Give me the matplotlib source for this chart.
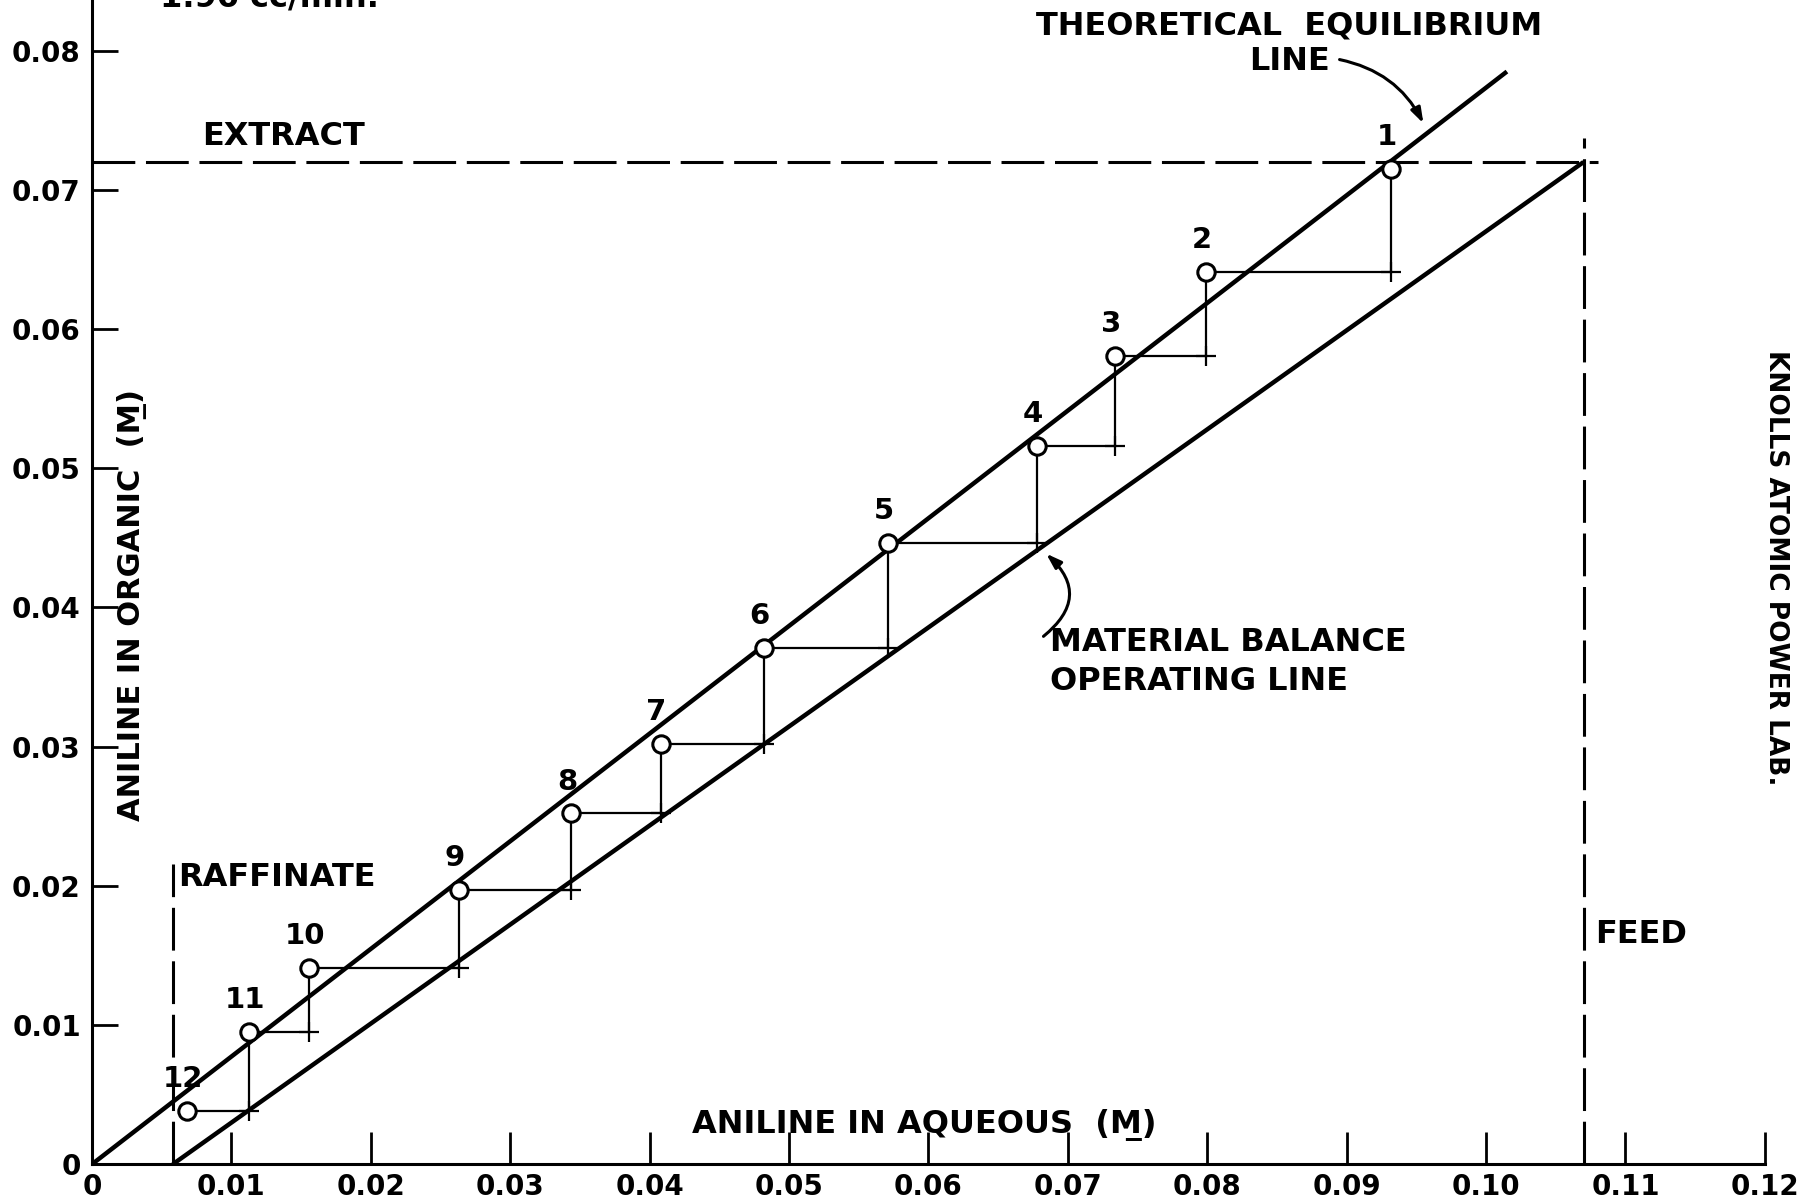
import matplotlib
matplotlib.use("Agg")
import matplotlib.pyplot as plt

# Stage-by-stage extraction data (aniline, molar)
stage_labels = ['1', '2', '3', '4', '5', '6', '7', '8', '9', '10', '11', '12']
stage_aq = [0.0932, 0.0799, 0.0734, 0.0678, 0.0571, 0.0482, 0.0408, 0.0344, 0.0263, 0.0156, 0.0113, 0.0068]
stage_org = [0.0715, 0.0641, 0.0581, 0.0516, 0.0446, 0.0371, 0.0302, 0.0252, 0.0197, 0.0141, 0.0095, 0.0038]

# Theoretical equilibrium line and material balance operating line
equil_aq = [0.0, 0.1015]
equil_org = [0.0, 0.0785]
oper_aq = [0.0058, 0.1070]
oper_org = [0.0, 0.0720]

raffinate_aq = 0.0058
feed_aq = 0.1070
extract_org = 0.0720

x_ticks = [0.00, 0.01, 0.02, 0.03, 0.04, 0.05, 0.06, 0.07, 0.08, 0.09, 0.10, 0.11, 0.12]
x_ticklabels = ['0', '0.01', '0.02', '0.03', '0.04', '0.05', '0.06', '0.07', '0.08', '0.09', '0.10', '0.11', '0.12']
y_ticks = [0.00, 0.01, 0.02, 0.03, 0.04, 0.05, 0.06, 0.07, 0.08]
y_ticklabels = ['0', '0.01', '0.02', '0.03', '0.04', '0.05', '0.06', '0.07', '0.08']

plt.rcParams['font.family'] = ['DejaVu Sans']
plt.rcParams['font.weight'] = 'bold'

fig = plt.figure(figsize=(17.99, 12.03), dpi=100)
ax = fig.add_axes([0.0511, 0.0322, 0.9299, 0.9678])
ax.set_xlim(0, 0.12)
ax.set_ylim(0, 0.08364)

for side in ['top', 'right']:
    ax.spines[side].set_visible(False)
for side in ['left', 'bottom']:
    ax.spines[side].set_linewidth(2.2)

ax.set_xticks(x_ticks)
ax.set_xticklabels(x_ticklabels)
ax.set_yticks(y_ticks)
ax.set_yticklabels(y_ticklabels)
ax.tick_params(axis='x', direction='in', length=23, width=2, labelsize=20, pad=6)
ax.tick_params(axis='y', direction='in', length=19, width=2, labelsize=20, pad=8)

dash = (14, 3.5)

# equilibrium and operating lines
ax.plot(equil_aq, equil_org, color='k', lw=3.2, solid_capstyle='butt', zorder=3)
ax.plot(oper_aq, oper_org, color='k', lw=3.2, solid_capstyle='butt', zorder=3)

# raffinate, feed and extract compositions
ax.plot([raffinate_aq, raffinate_aq], [0, 0.0216], color='k', lw=2.2, dashes=dash)
ax.plot([feed_aq, feed_aq], [0, 0.0737], color='k', lw=2.2, dashes=dash)
ax.plot([0, 0.1080], [extract_org, extract_org], color='k', lw=2.2, dashes=dash)

# stage steps between equilibrium and operating lines
for i in range(len(stage_aq) - 1):
    ax.plot([stage_aq[i], stage_aq[i]], [stage_org[i], stage_org[i + 1]], color='k', lw=1.6, zorder=2)
    ax.plot([stage_aq[i + 1], stage_aq[i]], [stage_org[i + 1], stage_org[i + 1]], color='k', lw=1.6, zorder=2)
ax.plot(stage_aq[:-1], stage_org[1:], '+', color='k', ms=15, mew=1.6, zorder=2)

ax.plot(stage_aq, stage_org, 'o', mfc='white', mec='k', ms=12.5, mew=2.2, zorder=5)
for lab, xa, yo in zip(stage_labels, stage_aq, stage_org):
    ax.annotate(lab, (xa, yo), xytext=(-3, 23), textcoords='offset points',
                ha='center', va='center', fontsize=21)

lbl = dict(fontsize=23, color='k')
ax.text(0.0079, 0.0738, 'EXTRACT', ha='left', va='center', **lbl)
ax.text(0.0859, 0.0818, 'THEORETICAL  EQUILIBRIUM', ha='center', va='center', **lbl)
ax.text(0.0859, 0.0792, 'LINE', ha='center', va='center', **lbl)
ax.text(0.0687, 0.0375, 'MATERIAL BALANCE', ha='left', va='center', **lbl)
ax.text(0.0687, 0.0347, 'OPERATING LINE', ha='left', va='center', **lbl)
ax.text(0.0062, 0.0206, 'RAFFINATE', ha='left', va='center', **lbl)
ax.text(0.1078, 0.0165, 'FEED', ha='left', va='center', **lbl)
ax.text(0.0597, 0.0028, 'ANILINE IN AQUEOUS  (M\u0332)', ha='center', va='center', **lbl)
ax.text(0.0029, 0.0402, 'ANILINE IN ORGANIC  (M\u0332)', ha='center', va='center',
        rotation=90, fontsize=22)

arrow = dict(arrowstyle='-|>,head_length=0.9,head_width=0.3', color='k', lw=2.2)
ax.annotate('', xy=(0.0956, 0.0746), xytext=(0.0893, 0.0794),
            arrowprops=dict(connectionstyle='arc3,rad=-0.25', **arrow))
ax.annotate('', xy=(0.0683, 0.0440), xytext=(0.0681, 0.0378),
            arrowprops=dict(connectionstyle='arc3,rad=0.6', **arrow))

fig.text(0.987, 0.528, 'KNOLLS ATOMIC POWER LAB.', rotation=-90, ha='center', va='center',
         fontsize=19)
fig.text(0.089, 0.995, '1.96 cc/min.', ha='left', va='baseline', fontsize=23)

fig.savefig('out.png', dpi=100, facecolor='white')
